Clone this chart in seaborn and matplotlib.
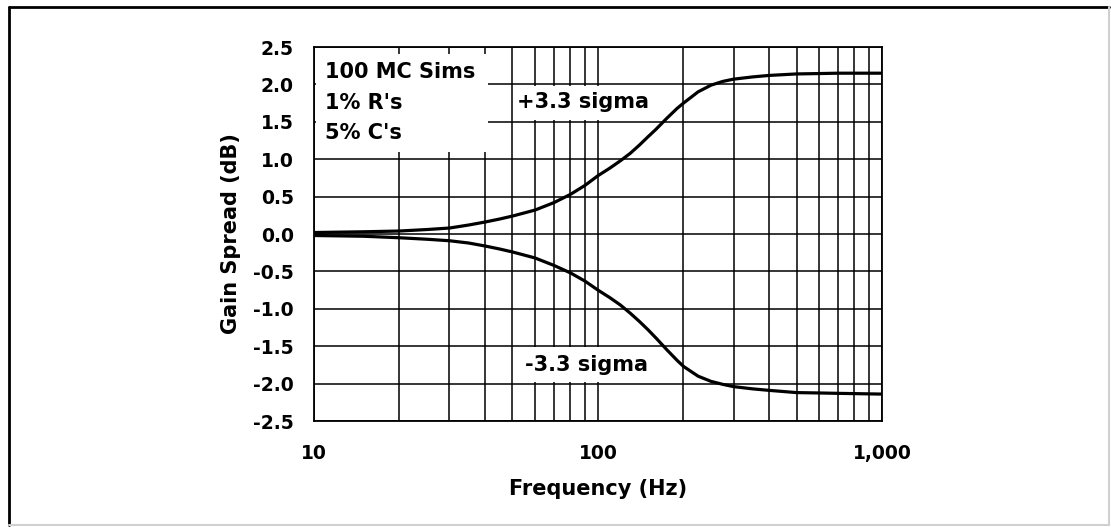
import pandas as pd
import matplotlib.pyplot as plt
import matplotlib.ticker as mticker
from matplotlib.patches import Rectangle
from matplotlib.lines import Line2D
import seaborn as sns

# Values
freq = [10, 15, 20, 25, 30, 35, 40, 45, 50, 60, 70, 80, 90, 100, 110, 120, 130, 140,
        150, 160, 175, 190, 200, 225, 250, 275, 300, 350, 400, 500, 600, 700, 1000]
upper = [0.02, 0.03, 0.04, 0.06, 0.08, 0.12, 0.16, 0.20, 0.24, 0.32, 0.42, 0.53, 0.65,
         0.78, 0.88, 0.98, 1.08, 1.19, 1.30, 1.40, 1.55, 1.68, 1.75, 1.90, 1.99, 2.04,
         2.07, 2.10, 2.12, 2.14, 2.145, 2.15, 2.15]
lower = [-0.02, -0.03, -0.05, -0.07, -0.09, -0.12, -0.16, -0.20, -0.24, -0.32, -0.42,
         -0.52, -0.63, -0.75, -0.85, -0.95, -1.06, -1.17, -1.28, -1.39, -1.55, -1.69,
         -1.77, -1.90, -1.97, -2.01, -2.04, -2.07, -2.09, -2.12, -2.125, -2.13, -2.14]
x_ticks = [10, 100, 1000]
x_tick_labels = ["10", "100", "1,000"]
y_ticks = [-2.5, -2.0, -1.5, -1.0, -0.5, 0.0, 0.5, 1.0, 1.5, 2.0, 2.5]

df = pd.DataFrame({
    "freq": freq * 2,
    "gain": upper + lower,
    "series": ["+3.3 sigma"] * len(freq) + ["-3.3 sigma"] * len(freq),
})

sns.set_style("white")
plt.rcParams['font.family'] = ['DejaVu Sans']
plt.rcParams['text.color'] = 'black'
plt.rcParams['axes.labelcolor'] = 'black'
plt.rcParams['xtick.color'] = 'black'
plt.rcParams['ytick.color'] = 'black'

fig = plt.figure(figsize=(11.11, 5.27), dpi=100)
ax = fig.add_axes([0.2826, 0.2011, 0.5113, 0.7097])

sns.lineplot(data=df, x="freq", y="gain", units="series", estimator=None,
             color="black", linewidth=2.3, ax=ax, zorder=3)

ax.set_xscale("log")
ax.set_xlim(10, 1000)
ax.set_ylim(-2.5, 2.5)
ax.set_xticks(x_ticks)
ax.set_xticklabels(x_tick_labels)
ax.xaxis.set_minor_locator(mticker.LogLocator(base=10, subs=range(2, 10)))
ax.xaxis.set_minor_formatter(mticker.NullFormatter())
ax.set_yticks(y_ticks)
ax.set_yticklabels([f"{v:.1f}" for v in y_ticks])

ax.set_axisbelow(True)
ax.grid(True, which="both", axis="x", color="black", linewidth=1.1)
ax.grid(True, which="major", axis="y", color="black", linewidth=1.1)

for s in ax.spines.values():
    s.set_color("black")
    s.set_linewidth(1.3)

ax.tick_params(axis="both", which="major", direction="out", length=6.5, width=1.2,
               color="black", labelsize=13.5, labelcolor="black")
ax.tick_params(axis="x", which="major", pad=10)
ax.tick_params(axis="y", which="major", pad=8)
ax.tick_params(axis="x", which="minor", length=0)
for lab in ax.get_xticklabels() + ax.get_yticklabels():
    lab.set_fontweight("bold")

ax.set_xlabel("Frequency (Hz)", fontsize=15, fontweight="bold", color="black")
ax.set_ylabel("Gain Spread (dB)", fontsize=15, fontweight="bold", color="black")
ax.xaxis.set_label_coords(0.5, -0.155)
ax.yaxis.set_label_coords(-0.1285, 0.5)

# white boxes behind the annotations
ax.add_patch(Rectangle((0.004, 0.719), 0.302, 0.262, transform=ax.transAxes,
                       facecolor="white", edgecolor="none", zorder=1))
ax.add_patch(Rectangle((0.352, 0.805), 0.248, 0.091, transform=ax.transAxes,
                       facecolor="white", edgecolor="none", zorder=1))
ax.add_patch(Rectangle((0.352, 0.104), 0.294, 0.094, transform=ax.transAxes,
                       facecolor="white", edgecolor="none", zorder=1))

for txt, yy in [("100 MC Sims", 0.933), ("1% R's", 0.850), ("5% C's", 0.770)]:
    ax.text(0.019, yy, txt, transform=ax.transAxes, fontsize=15, fontweight="bold",
            ha="left", va="center", color="black", zorder=4)
ax.text(0.474, 0.853, "+3.3 sigma", transform=ax.transAxes, fontsize=15,
        fontweight="bold", ha="center", va="center", color="black", zorder=4)
ax.text(0.479, 0.150, "-3.3 sigma", transform=ax.transAxes, fontsize=15,
        fontweight="bold", ha="center", va="center", color="black", zorder=4)

# outer frame
fig.add_artist(Line2D([0.0081, 0.0081], [0.0038, 0.9867], color="black", linewidth=2))
fig.add_artist(Line2D([0.0081, 0.998], [0.9867, 0.9867], color="black", linewidth=2))
fig.add_artist(Line2D([0.998, 0.998], [0.0038, 0.9867], color="#d0d0d0", linewidth=1.5))
fig.add_artist(Line2D([0.0081, 0.998], [0.0038, 0.0038], color="#d0d0d0", linewidth=1.5))

fig.savefig("out.png", dpi=100)
